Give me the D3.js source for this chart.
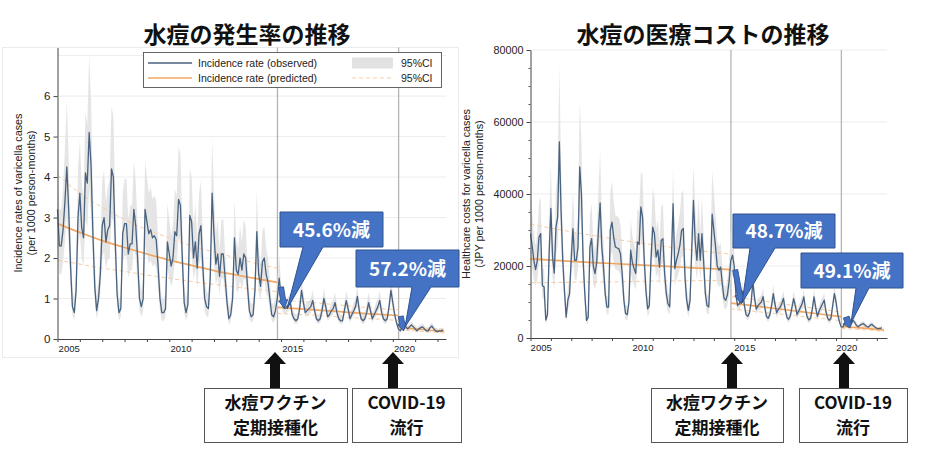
<!DOCTYPE html>
<html><head><meta charset="utf-8">
<script src="https://cdn.jsdelivr.net/npm/d3@7"></script>
<style>body{margin:0;background:#fff;} svg{display:block;}</style>
</head><body><svg id="c" width="930" height="453"></svg>
<script>
// ---------------- DATA ----------------
const startYear = 2005;               // monthly series, Jan 2005 .. Apr 2022
const vaccT = 2014.84;                // routine varicella vaccination (Nov 2014)
const covidT = 2020.26;               // COVID-19 (Apr 2020)
const yearTicks = [2005,2006,2007,2008,2009,2010,2011,2012,2013,2014,2015,2016,2017,2018,2019,2020,2021,2022];
const yearLabels = [2005, 2010, 2015, 2020];
const incTicks = [0,1,2,3,4,5,6];
const costTicks = [0,20000,40000,60000,80000];

// Incidence rate (per 1000 person-months), observed
const incObs = [
3.2,2.3,2.3,2.7,3.4,4.25,3.2,1.8,0.8,0.65,1.2,3.0,
3.6,2.75,2.5,4.1,3.85,5.1,4.3,2.6,1.3,0.7,1.0,1.6,
2.8,3.0,2.4,2.7,2.8,4.2,4.0,2.4,1.1,0.65,0.75,2.6,
2.85,2.85,2.1,2.35,2.35,3.2,2.8,2.0,1.0,0.8,1.0,3.2,
2.9,2.6,2.7,2.5,2.55,2.45,1.8,1.0,0.65,0.65,0.75,2.4,
2.1,1.8,2.0,2.65,2.55,3.45,3.3,2.0,0.9,0.65,0.85,3.05,
2.9,2.0,2.4,1.75,2.6,2.8,1.8,1.0,0.8,0.75,1.5,3.6,
2.6,1.85,2.1,1.55,2.1,2.1,1.5,0.9,0.5,0.6,1.0,2.5,
1.7,1.6,2.0,1.7,2.1,2.0,1.3,0.7,0.55,0.6,1.2,2.65,
1.6,1.3,1.9,2.0,1.6,1.4,1.0,0.6,0.55,0.7,1.0,1.5,
1.1,0.8,0.75,0.8,0.85,0.9,0.6,0.5,0.45,0.5,0.75,1.2,
0.9,0.65,0.7,0.75,0.8,0.95,0.7,0.5,0.45,0.5,0.7,1.0,
0.8,0.55,0.6,0.7,0.75,0.9,0.65,0.5,0.45,0.45,0.7,0.95,
0.75,0.5,0.6,0.7,0.8,1.05,0.7,0.5,0.45,0.5,0.65,0.9,
0.7,0.5,0.6,0.7,0.8,0.95,0.65,0.5,0.45,0.5,0.8,1.2,
0.9,0.6,0.4,0.25,0.2,0.3,0.35,0.3,0.25,0.3,0.35,0.3,
0.25,0.2,0.25,0.28,0.3,0.25,0.2,0.2,0.28,0.32,0.25,0.2,
0.18,0.2,0.2,0.22];
const incHi = [
4.4,3.2,3.2,3.7,4.7,5.9,4.4,2.5,1.2,1.0,1.7,4.2,
4.9,3.8,3.5,5.6,5.3,7.0,5.9,3.6,1.9,1.05,1.45,2.3,
3.9,4.15,3.35,3.75,3.9,5.75,5.5,3.35,1.6,1.0,1.1,3.6,
3.95,3.95,2.95,3.3,3.3,4.4,3.9,2.8,1.45,1.2,1.45,4.4,
4.0,3.6,3.75,3.45,3.55,3.4,2.5,1.45,1.0,1.0,1.1,3.35,
2.95,2.55,2.8,3.7,3.55,4.75,4.55,2.8,1.3,1.0,1.25,4.2,
4.0,2.8,3.35,2.45,3.6,3.9,2.5,1.45,1.2,1.1,2.1,4.95,
3.6,2.6,2.95,2.2,2.95,2.95,2.1,1.3,0.8,0.9,1.45,3.45,
2.4,2.25,2.8,2.4,2.95,2.8,1.85,1.05,0.85,0.9,1.7,3.7,
2.25,1.85,2.65,2.8,2.25,2.0,1.45,0.9,0.85,1.05,1.45,2.1,
1.35,1.0,0.95,1.0,1.05,1.15,0.75,0.65,0.6,0.65,0.95,1.5,
1.15,0.85,0.9,0.95,1.0,1.2,0.9,0.65,0.6,0.65,0.9,1.25,
1.0,0.7,0.75,0.9,0.95,1.15,0.85,0.65,0.6,0.6,0.9,1.2,
0.95,0.65,0.75,0.9,1.0,1.3,0.9,0.65,0.6,0.65,0.85,1.15,
0.9,0.65,0.75,0.9,1.0,1.2,0.85,0.65,0.6,0.65,1.0,1.5,
1.15,0.75,0.5,0.33,0.27,0.38,0.44,0.38,0.33,0.38,0.44,0.38,
0.33,0.27,0.33,0.36,0.38,0.33,0.27,0.27,0.36,0.4,0.33,0.27,
0.25,0.27,0.27,0.29];
const incLo = [
2.3,1.6,1.6,1.9,2.4,3.1,2.3,1.3,0.6,0.45,0.85,2.2,
2.6,2.0,1.8,2.95,2.75,3.7,3.1,1.9,0.95,0.5,0.7,1.15,
2.0,2.15,1.75,1.95,2.0,3.0,2.9,1.75,0.8,0.45,0.55,1.85,
2.05,2.05,1.5,1.7,1.7,2.3,2.0,1.45,0.7,0.55,0.7,2.3,
2.1,1.85,1.95,1.8,1.85,1.75,1.3,0.7,0.45,0.45,0.55,1.75,
1.5,1.3,1.45,1.9,1.85,2.5,2.4,1.45,0.65,0.45,0.6,2.2,
2.1,1.45,1.75,1.25,1.85,2.0,1.3,0.7,0.55,0.55,1.1,2.6,
1.85,1.35,1.5,1.1,1.5,1.5,1.1,0.65,0.35,0.45,0.7,1.8,
1.2,1.15,1.45,1.2,1.5,1.45,0.95,0.5,0.4,0.45,0.85,1.9,
1.15,0.95,1.35,1.45,1.15,1.0,0.7,0.45,0.4,0.5,0.7,1.1,
0.9,0.65,0.6,0.65,0.7,0.75,0.5,0.4,0.37,0.4,0.6,1.0,
0.75,0.55,0.57,0.6,0.65,0.78,0.57,0.4,0.37,0.4,0.57,0.82,
0.65,0.45,0.5,0.57,0.6,0.74,0.53,0.4,0.37,0.37,0.57,0.78,
0.6,0.4,0.5,0.57,0.65,0.86,0.57,0.4,0.37,0.4,0.53,0.74,
0.57,0.4,0.5,0.57,0.65,0.78,0.53,0.4,0.37,0.4,0.65,1.0,
0.75,0.5,0.33,0.2,0.16,0.25,0.29,0.25,0.2,0.25,0.29,0.25,
0.2,0.16,0.2,0.23,0.25,0.2,0.16,0.16,0.23,0.26,0.2,0.16,
0.14,0.16,0.16,0.18];
// Incidence rate, predicted (segmented model), knots
const incPred = [
  {t:[2005,2006,2007,2008,2009,2010,2011,2012,2013,2014,2014.84],
   v:[2.85,2.63,2.43,2.26,2.1,1.95,1.82,1.69,1.58,1.48,1.40],
   hi:[4.05,3.6,3.25,2.95,2.7,2.5,2.3,2.15,2.0,1.85,1.75],
   lo:[1.95,1.85,1.75,1.67,1.58,1.5,1.42,1.35,1.28,1.22,1.17]},
  {t:[2014.84,2016,2017,2018,2019,2020.26],
   v:[0.78,0.74,0.7,0.66,0.62,0.58],
   hi:[0.97,0.92,0.87,0.82,0.77,0.72],
   lo:[0.63,0.6,0.57,0.53,0.5,0.46]},
  {t:[2020.26,2021,2022,2022.3],
   v:[0.28,0.25,0.2,0.19],
   hi:[0.34,0.3,0.25,0.24],
   lo:[0.23,0.2,0.16,0.15]}
];

// Healthcare costs (JPY per 1000 person-months), observed
const costObs = [
29000,25500,21500,19000,21500,28000,29000,14500,14200,5000,6500,24000,
36000,22500,18000,30800,33600,54500,35500,21600,13200,5800,10500,12300,
22000,30400,21600,21600,25300,47500,40000,21600,12300,4900,5800,25300,
27600,20000,17900,21000,29900,37500,25300,19700,12300,8600,8600,30000,
32200,28000,25300,25000,24800,23400,17900,10500,6800,6500,10000,24400,
21000,19300,17900,26700,26000,36400,33600,21600,13200,8100,9000,22000,
30800,29000,22500,24400,19700,27100,27600,17900,12300,9500,8600,22000,
37300,19300,21600,23400,25700,29900,30400,17000,10500,7700,10500,25000,
38200,27000,21600,29000,21600,29000,21100,12300,9000,8600,18000,34400,
30000,25300,20000,18800,19700,15000,11000,10500,12000,15800,21600,23000,
20000,12000,9000,9500,11000,13000,9000,6500,6000,7000,10000,15600,
11000,8000,9000,9500,10000,11500,8500,6000,5500,6500,9000,12300,
9500,7000,8000,8500,9500,11000,8000,5800,5200,6000,8500,10900,
9000,6500,7500,8500,9500,11400,8000,5800,5000,5500,8000,11400,
8500,6000,7500,8500,9500,10500,7500,5500,4900,5500,9000,12300,
10000,6500,4500,3100,3000,4000,4500,4000,3500,4200,4900,4300,
3500,3100,3500,3800,4000,3600,3200,3000,3500,3800,3400,3000,
2700,2600,2700,2800];
const costHi = [
39200,34400,29000,25700,29000,37800,39200,19600,19200,6800,8800,32400,
48600,30400,24300,41600,45400,76000,47900,29200,17800,7800,14200,16600,
29700,41000,29200,29200,34200,66000,54000,29200,16600,6600,7800,34200,
37300,27000,24200,28400,40400,52000,34200,26600,16600,11600,11600,40500,
43500,37800,34200,33800,33500,31600,24200,14200,9200,8800,13500,32900,
28400,26100,24200,36000,35100,46000,45400,29200,17800,10900,12200,29700,
41600,39200,30400,32900,26600,36600,37300,24200,16600,12800,11600,29700,
47000,26100,29200,31600,34700,40400,41000,23000,14200,10400,14200,33800,
48000,36500,29200,39200,29200,39200,28500,16600,12200,11600,24300,46400,
40500,34200,27000,25400,26600,20300,14900,14200,16200,21300,29200,31000,
24000,14400,10800,11400,13200,15600,10800,7800,7200,8400,12000,18700,
13200,9600,10800,11400,12000,13800,10200,7200,6600,7800,10800,14800,
11400,8400,9600,10200,11400,13200,9600,7000,6200,7200,10200,13100,
10800,7800,9000,10200,11400,13700,9600,7000,6000,6600,9600,13700,
10200,7200,9000,10200,11400,12600,9000,6600,5900,6600,10800,14800,
12000,7800,5400,3700,3600,4800,5400,4800,4200,5000,5900,5200,
4200,3700,4200,4600,4800,4300,3800,3600,4200,4600,4100,3600,
3200,3100,3200,3400];
const costLo = [
21800,19100,16100,14300,16100,21000,21800,10900,10700,3800,4900,18000,
27000,16900,13500,23100,25200,40900,26600,16200,9900,4400,7900,9200,
16500,22800,16200,16200,19000,35600,30000,16200,9200,3700,4400,19000,
20700,15000,13400,15800,22400,28100,19000,14800,9200,6500,6500,22500,
24200,21000,19000,18800,18600,17600,13400,7900,5100,4900,7500,18300,
15800,14500,13400,20000,19500,27300,25200,16200,9900,6100,6800,16500,
23100,21800,16900,18300,14800,20300,20700,13400,9200,7100,6500,16500,
28000,14500,16200,17600,19300,22400,22800,12800,7900,5800,7900,18800,
28700,20300,16200,21800,16200,21800,15800,9200,6800,6500,13500,25800,
22500,19000,15000,14100,14800,11300,8300,7900,9000,11900,16200,17300,
16400,9800,7400,7800,9000,10700,7400,5300,4900,5700,8200,12800,
9000,6600,7400,7800,8200,9400,7000,4900,4500,5300,7400,10100,
7800,5700,6600,7000,7800,9000,6600,4800,4300,4900,7000,8900,
7400,5300,6200,7000,7800,9300,6600,4800,4100,4500,6600,9300,
7000,4900,6200,7000,7800,8600,6200,4500,4000,4500,7400,10100,
8200,5300,3700,2500,2500,3300,3700,3300,2900,3400,4000,3500,
2900,2500,2900,3100,3300,3000,2600,2500,2900,3100,2800,2500,
2200,2100,2200,2300];
const costPred = [
  {t:[2005,2007,2009,2011,2013,2014.84],
   v:[22000,21300,20700,20100,19500,19000],
   hi:[31600,29500,27600,25900,24400,23300],
   lo:[15300,15500,15600,15800,15900,16000]},
  {t:[2014.84,2016,2017,2018,2019,2020.26],
   v:[9700,8900,8200,7500,6800,5900],
   hi:[11500,10600,9800,9000,8200,7200],
   lo:[8100,7400,6800,6200,5600,4800]},
  {t:[2020.26,2021,2022,2022.35],
   v:[3200,2900,2400,2200],
   hi:[3900,3500,2900,2700],
   lo:[2600,2400,2000,1800]}
];

// ---------------- DRAWING ----------------
const svg = d3.select("#c");
const fLat = "'Liberation Sans', Arial, Helvetica, sans-serif";
const fJP = "'Noto Sans CJK JP', 'Noto Sans CJK SC', sans-serif";
const C = {obs:"#48627f", band:"#e2e2e2", pred:"#f1a762", predCI:"#f6cca4", vline:"#b4b4b4", grid:"#ededed",
           callFill:"#4472c4", callStroke:"#2f528f"};
const tm = i => startYear + i/12;

// light frame around the left figure
svg.append("rect").attr("x",2.5).attr("y",47.5).attr("width",456).attr("height",310)
  .attr("fill","none").attr("stroke","#ebebeb");

function drawPanel(o){
  const g = svg.append("g");
  const x = o.x, y = o.y;
  const [x0,x1] = x.range(), [yb,yt] = y.range();
  g.selectAll("line.grid").data(o.grid).join("line").attr("class","grid")
    .attr("x1",x0).attr("x2",x1).attr("y1",d=>y(d)).attr("y2",d=>y(d))
    .attr("stroke",C.grid).attr("stroke-width",1);
  g.selectAll("line.ev").data([vaccT,covidT]).join("line").attr("class","ev")
    .attr("x1",d=>x(d)).attr("x2",d=>x(d)).attr("y1",yt).attr("y2",yb)
    .attr("stroke",C.vline).attr("stroke-width",1.3);
  const area = d3.area().x((d,i)=>x(tm(i))).y0((d,i)=>y(o.lo[i])).y1((d,i)=>y(o.hi[i]));
  g.append("path").datum(o.obs).attr("d",area).attr("fill",C.band).attr("opacity",0.9);
  o.pred.forEach(seg=>{
    const pts = seg.t.map((t,k)=>({t, v:seg.v[k], hi:seg.hi[k], lo:seg.lo[k]}));
    const mk = key => d3.line().x(d=>x(d.t)).y(d=>y(d[key])).curve(d3.curveMonotoneX);
    ["hi","lo"].forEach(k=> g.append("path").datum(pts).attr("d",mk(k)).attr("fill","none")
      .attr("stroke",C.predCI).attr("stroke-width",1).attr("stroke-dasharray","4,3"));
    g.append("path").datum(pts).attr("d",mk("v")).attr("fill","none")
      .attr("stroke",C.pred).attr("stroke-width",1.7);
  });
  const line = d3.line().x((d,i)=>x(tm(i))).y(d=>y(d));
  g.append("path").datum(o.obs).attr("d",line).attr("fill","none")
    .attr("stroke",C.obs).attr("stroke-width",1.3).attr("stroke-linejoin","round");

  // axes
  const ax = g.append("g").attr("transform",`translate(0,${yb})`)
    .call(d3.axisBottom(x).tickValues(yearTicks).tickSize(3).tickSizeOuter(0).tickFormat(""));
  ax.select(".domain").attr("stroke","#444");
  ax.selectAll(".tick line").attr("stroke","#444");
  const axl = g.append("g").attr("transform",`translate(0,${yb})`)
    .call(d3.axisBottom(x).tickValues(yearLabels.map(v=>v+0.5)).tickSize(0).tickPadding(6).tickFormat(d=>Math.floor(d)));
  axl.select(".domain").remove();
  axl.selectAll("text").attr("font-family",fLat).attr("font-size",9.5).attr("fill","#222");
  if (o.minor){
    const am = g.append("g").attr("transform",`translate(${x0},0)`)
      .call(d3.axisLeft(y).tickValues(o.minor).tickSize(2).tickFormat(""));
    am.select(".domain").remove();
    am.selectAll(".tick line").attr("stroke","#555");
  }
  const ay = g.append("g").attr("transform",`translate(${x0},0)`)
    .call(d3.axisLeft(y).tickValues(o.ticks).tickSize(4).tickSizeOuter(0).tickPadding(3).tickFormat(d3.format("d")));
  ay.select(".domain").attr("stroke","#444");
  ay.selectAll(".tick line").attr("stroke","#444");
  ay.selectAll("text").attr("font-family",fLat).attr("font-size",o.tickFont).attr("fill","#222");
  // y label
  const lab = g.append("text").attr("transform",`translate(${o.labX},${o.labY}) rotate(-90)`)
    .attr("text-anchor","middle").attr("font-family",fLat).attr("font-size",10.8).attr("fill","#222");
  lab.append("tspan").attr("x",0).attr("dy",0).text(o.label[0]);
  lab.append("tspan").attr("x",0).attr("dy",12.5).text(o.label[1]);
  return g;
}

const xL = d3.scaleLinear().domain([2005, 2022.38]).range([57.5, 446]);
const yL = d3.scaleLinear().domain([0, 7.2]).range([339, 47.5]);
const xR = d3.scaleLinear().domain([2005, 2022.5]).range([530.5, 887]);
const yR = d3.scaleLinear().domain([0, 80000]).range([338, 50]);

drawPanel({x:xL, y:yL, obs:incObs, hi:incHi, lo:incLo, pred:incPred, grid:[1,2,3,4,5,6,7],
  ticks:incTicks, tickFont:11.5, labX:22, labY:193,
  label:["Incidence rates of varicella cases","(per 1000 person-months)"]});
drawPanel({x:xR, y:yR, obs:costObs, hi:costHi, lo:costLo, pred:costPred, grid:[20000,40000,60000,80000],
  ticks:costTicks, minor:d3.range(0,80001,5000), tickFont:10.8, labX:470, labY:194,
  label:["Healthcare costs for varicella cases","(JPY per 1000 person-months)"]});

// legend (left panel)
const lg = svg.append("g");
lg.append("rect").attr("x",143.5).attr("y",52.5).attr("width",298).attr("height",35)
  .attr("fill","#fff").attr("stroke","#555").attr("stroke-width",0.9);
lg.append("line").attr("x1",148).attr("x2",192).attr("y1",63).attr("y2",63).attr("stroke",C.obs).attr("stroke-width",1.4);
lg.append("line").attr("x1",148).attr("x2",192).attr("y1",78).attr("y2",78).attr("stroke",C.pred).attr("stroke-width",1.6);
lg.append("rect").attr("x",352).attr("y",57.5).attr("width",41).attr("height",11).attr("fill",C.band);
lg.append("line").attr("x1",352).attr("x2",393).attr("y1",78).attr("y2",78).attr("stroke",C.predCI).attr("stroke-dasharray","4,3");
[["Incidence rate (observed)",198,66.7],["Incidence rate (predicted)",198,81.7],["95%CI",401,66.7],["95%CI",401,81.7]]
  .forEach(([t,x,y])=>lg.append("text").attr("x",x).attr("y",y).attr("font-family",fLat)
     .attr("font-size",10.5).attr("fill","#222").text(t));

// titles
[["水痘の発生率の推移",247],["水痘の医療コストの推移",703]].forEach(([t,x])=>
  svg.append("text").attr("x",x).attr("y",43).attr("text-anchor","middle").attr("font-family",fJP)
    .attr("font-weight","bold").attr("font-size",23).attr("fill","#111").text(t));

// blue block arrows
function blockArrow(p1,p2,shaftW,headW,headL){
  const dx=p2[0]-p1[0], dy=p2[1]-p1[1], L=Math.hypot(dx,dy), ux=dx/L, uy=dy/L, px=-uy, py=ux;
  const hb=[p2[0]-ux*headL, p2[1]-uy*headL];
  const pts=[[p1[0]+px*shaftW/2,p1[1]+py*shaftW/2],[hb[0]+px*shaftW/2,hb[1]+py*shaftW/2],
    [hb[0]+px*headW/2,hb[1]+py*headW/2],p2,[hb[0]-px*headW/2,hb[1]-py*headW/2],
    [hb[0]-px*shaftW/2,hb[1]-py*shaftW/2],[p1[0]-px*shaftW/2,p1[1]-py*shaftW/2]];
  svg.append("path").attr("d","M"+pts.map(p=>p.join(",")).join("L")+"Z")
    .attr("fill",C.callFill).attr("stroke",C.callStroke).attr("stroke-width",0.9);
}
blockArrow([xL(2015.0),yL(1.28)],[xL(2015.15),yL(0.76)],5,9,8);
blockArrow([xL(2020.36),yL(0.56)],[xL(2020.48),yL(0.2)],5,9,7);
blockArrow([xR(2015.05),yR(18900)],[xR(2015.35),yR(9500)],5,10,9);
blockArrow([xR(2020.5),yR(5800)],[xR(2020.68),yR(2800)],6,10,6);

// callouts
function callout(b,base,tip,text){
  const [x,y,w,h]=b;
  const d=`M${x},${y}H${x+w}V${y+h}H${base[1]}L${tip[0]},${tip[1]}L${base[0]},${y+h}H${x}Z`;
  svg.append("path").attr("d",d).attr("fill",C.callFill).attr("stroke",C.callStroke).attr("stroke-width",1);
  svg.append("text").attr("x",x+w/2).attr("y",y+h/2+7).attr("text-anchor","middle").attr("font-family",fJP)
    .attr("font-weight","bold").attr("font-size",19).attr("fill","#fff").text(text);
}
callout([280,212,103,35],[303,323],[287,309],"45.6%減");
callout([356,250,103,37],[412,431],[405,327],"57.2%減");
callout([733,214,102,34],[750,775],[742,303],"48.7%減");
callout([801,253,102,35],[856,869],[851,323],"49.1%減");

// black up arrows and event boxes
function upArrow(cx){
  const d=`M${cx},352L${cx+11},364H${cx+5}V388H${cx-5}V364H${cx-11}Z`;
  svg.append("path").attr("d",d).attr("fill","#111");
}
[275,393,732,844].forEach(upArrow);
function evBox(x,w,l1,l2){
  svg.append("rect").attr("x",x+0.5).attr("y",388.5).attr("width",w).attr("height",54)
    .attr("fill","#fff").attr("stroke","#555").attr("stroke-width",1);
  [[l1,409],[l2,434]].forEach(([t,y])=>svg.append("text").attr("x",x+w/2).attr("y",y)
    .attr("text-anchor","middle").attr("font-family",fJP).attr("font-weight","bold")
    .attr("font-size",17).attr("fill","#111").text(t));
}
evBox(204,143,"水痘ワクチン","定期接種化");
evBox(352,109,"COVID-19","流行");
evBox(651,132,"水痘ワクチン","定期接種化");
evBox(799,108,"COVID-19","流行");
</script>
</body></html>
